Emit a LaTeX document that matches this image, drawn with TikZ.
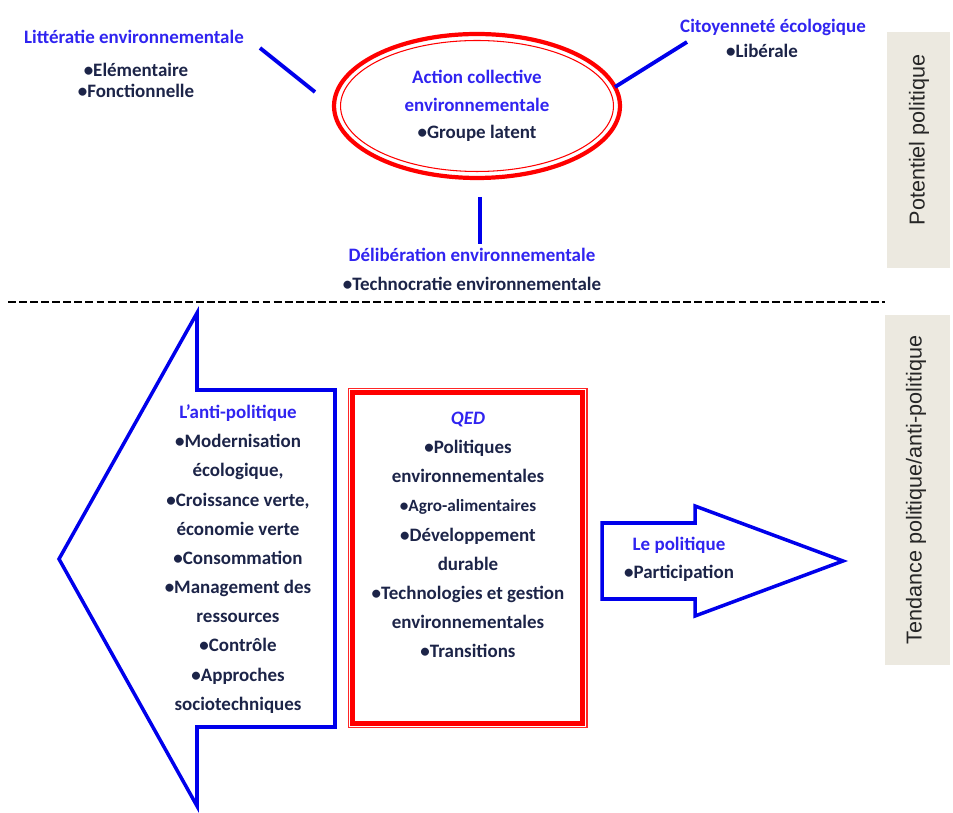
\documentclass[tikz,border=0pt]{standalone}
\usepackage{fontspec}
\setmainfont{Carlito}
\newfontfamily\sidefont{Liberation Sans}
\usepackage{xcolor}
\usetikzlibrary{shapes,positioning,calc}

\definecolor{headblue}{RGB}{48,36,240}
\definecolor{itemnavy}{RGB}{28,36,72}
\definecolor{lineblue}{RGB}{0,0,235}
\definecolor{sidegray}{RGB}{236,233,224}

\begin{document}
\begin{tikzpicture}[x=0.02cm, y=-0.02cm,
  head/.style={text=headblue, font=\bfseries\fontsize{10.8}{12}\selectfont, inner sep=0pt},
  items/.style={text=itemnavy, align=center, inner sep=0pt},
  link/.style={lineblue, line width=2.2pt},
  bigarrow/.style={draw=lineblue, line width=2pt, line join=miter},
  sidebox/.style={fill=sidegray, draw=none},
  sidetext/.style={rotate=90, font=\sidefont\fontsize{12.3}{14}\selectfont, text=black!85}]
\useasboundingbox (0,0) rectangle (953,813);

% Potentiel politique (top half)
\node[draw=red, line width=2.4pt, ellipse, minimum width=5.72cm, minimum height=2.88cm, inner sep=0pt,
      items, font=\bfseries\fontsize{10.8}{15.6}\selectfont] (acte) at (477,106)
  {\textcolor{headblue}{Action collective}\\\textcolor{headblue}{environnementale}\\•Groupe latent};
\draw[red, line width=0.6pt] (acte.center) ellipse [x radius=2.73cm, y radius=1.31cm];

\node[head] (lit) at (134,37) {Littératie environnementale};
\node[items, font=\bfseries\fontsize{10.8}{11.9}\selectfont] (litlist) at (136,80) {•Elémentaire\\•Fonctionnelle};

\node[head] (cit) at (773,27) {Citoyenneté écologique};
\node[items, font=\bfseries\fontsize{10.8}{12}\selectfont] (citlist) at (762,51) {•Libérale};

\node[head] (delib) at (472,255) {Délibération environnementale};
\node[items, font=\bfseries\fontsize{10.8}{12}\selectfont] (deliblist) at (472,284) {•Technocratie environnementale};

% blue links round the ellipse
\coordinate (lit-a) at (260,48);
\coordinate (lit-b) at (315,92);
\coordinate (cit-a) at (687,42);
\coordinate (cit-b) at (615,87);
\coordinate (del-a) at (480,197);
\coordinate (del-b) at (480,244);
\draw[link] (lit-a) -- (lit-b);
\draw[link] (cit-a) -- (cit-b);
\draw[link] (del-a) -- (del-b);

% separator
\draw[black, line width=0.8pt, dash pattern=on 4.5pt off 1.8pt] (8,302) -- (885,302);

% side labels
\fill[sidegray] (887,32) rectangle (950,268);
\node[sidetext] (potentiel) at (919,140) {Potentiel politique};
\fill[sidegray] (885,315) rectangle (950,665);
\node[sidetext] (tendance) at (916,490) {Tendance politique/anti-politique};

% Tendance: anti-politique arrow (left)
\draw[bigarrow] (59,559) -- (197,313) -- (197,390) -- (335,390) -- (335,727) -- (197,727) -- (197,806) -- cycle;
\node[items, font=\bfseries\fontsize{10.8}{16.6}\selectfont] (antipol) at (238,559)
  {\textcolor{headblue}{L'anti-politique}\\•Modernisation\\écologique,\\•Croissance verte,\\économie verte\\•Consommation\\•Management des\\ressources\\•Contrôle\\•Approches\\sociotechniques};

% QED box (middle)
\node[draw=red!85!white, line width=0.6pt, minimum width=4.78cm, minimum height=6.8cm, inner sep=0pt] (qedbox) at (467.5,558) {};
\draw[red, line width=2.8pt] ($(qedbox.north west)+(5,5)$) rectangle ($(qedbox.south east)+(-5,-5)$);
\node[items, font=\bfseries\fontsize{10.8}{16.6}\selectfont] (qed) at (468,535)
  {\textcolor{headblue}{\itshape QED}\\•Politiques\\environnementales\\{\fontsize{9.8}{16.6}\selectfont •Agro-alimentaires}\\•Développement\\durable\\•Technologies et gestion\\environnementales\\•Transitions};

% Le politique arrow (right)
\draw[bigarrow] (602,523) -- (695,523) -- (695,506) -- (843,561) -- (695,616) -- (695,599) -- (602,599) -- cycle;
\node[items, font=\bfseries\fontsize{10.8}{15.9}\selectfont] (pol) at (679,559)
  {\textcolor{headblue}{Le politique}\\•Participation};

\end{tikzpicture}
\end{document}
